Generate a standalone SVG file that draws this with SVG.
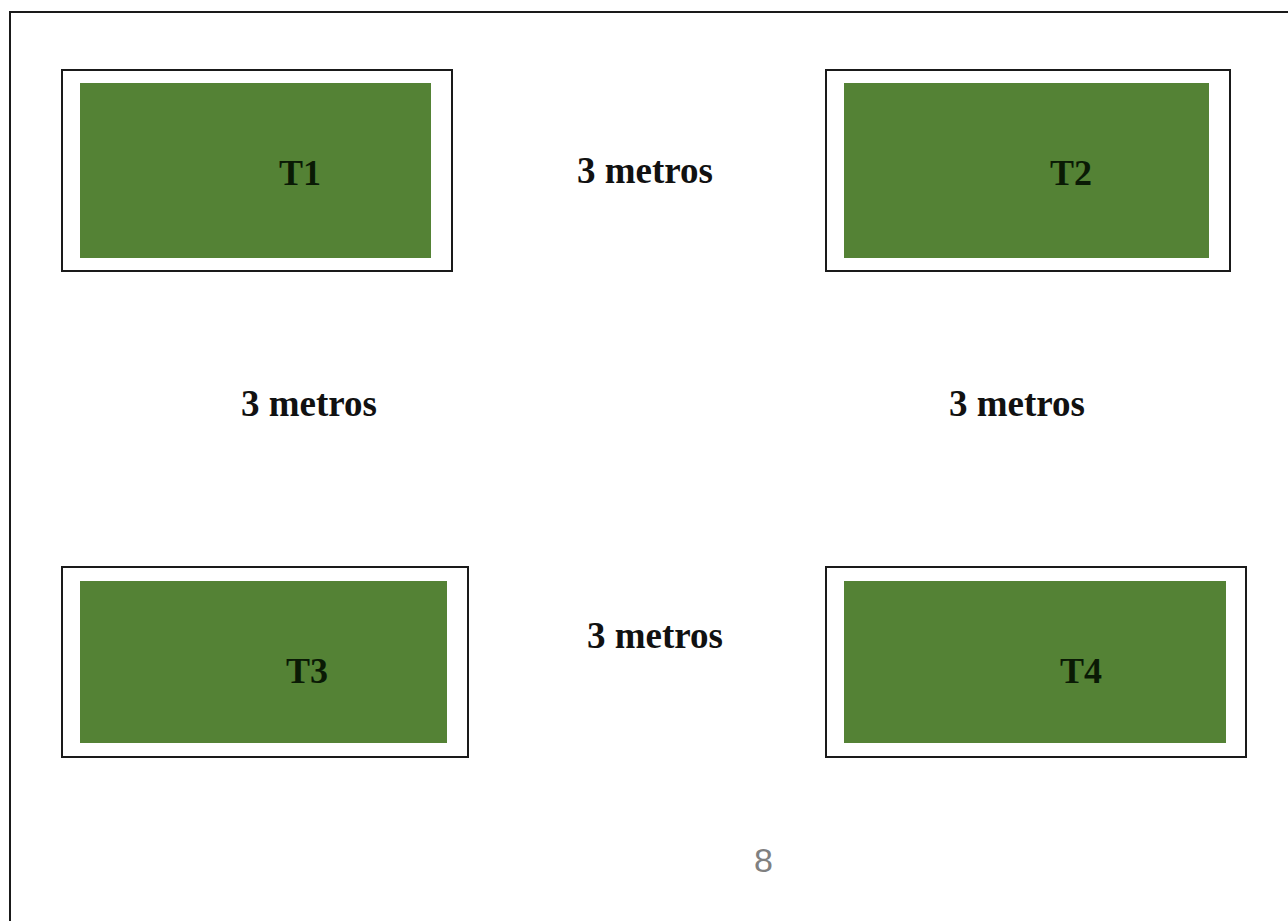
<svg xmlns="http://www.w3.org/2000/svg" width="1288" height="921" viewBox="0 0 1288 921">
<style>
.frame{fill:none;stroke:#1a1a1a;stroke-width:2}
.outer{fill:#fff;stroke:#1a1a1a;stroke-width:2}
.green{fill:#548235}
.lbl{font-family:"Liberation Serif",serif;font-weight:bold;font-size:37px;fill:#111}
.tl{font-family:"Liberation Serif",serif;font-weight:bold;font-size:36px;fill:#0a1a05}
.pg{font-family:"Liberation Sans",sans-serif;font-size:34px;fill:#808080}
</style>
<rect width="1288" height="921" fill="#fff"/>
<path class="frame" d="M10,925 V12 H1292"/>
<g id="T1">
<rect class="outer" x="62" y="70" width="390" height="201"/>
<rect class="green" x="80" y="83" width="351" height="175"/>
<text class="tl" x="279" y="185">T1</text>
</g>
<g id="T2">
<rect class="outer" x="826" y="70" width="404" height="201"/>
<rect class="green" x="844" y="83" width="365" height="175"/>
<text class="tl" x="1050" y="185">T2</text>
</g>
<g id="T3">
<rect class="outer" x="62" y="567" width="406" height="190"/>
<rect class="green" x="80" y="581" width="367" height="162"/>
<text class="tl" x="286" y="683">T3</text>
</g>
<g id="T4">
<rect class="outer" x="826" y="567" width="420" height="190"/>
<rect class="green" x="844" y="581" width="382" height="162"/>
<text class="tl" x="1060" y="683">T4</text>
</g>
<g id="connectors"></g>
<g id="labels">
<text class="lbl" x="577" y="183">3 metros</text>
<text class="lbl" x="241" y="416">3 metros</text>
<text class="lbl" x="949" y="416">3 metros</text>
<text class="lbl" x="587" y="648">3 metros</text>
<text class="pg" x="754" y="872">8</text>
</g>
</svg>
